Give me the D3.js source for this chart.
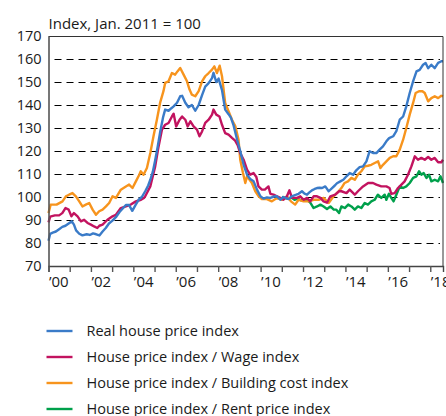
<!DOCTYPE html>
<html>
<head>
<meta charset="utf-8">
<script src="https://cdn.jsdelivr.net/npm/d3@7"></script>
<style>
  body { margin: 0; background: #fff; }
  svg { display: block; }
</style>
</head>
<body>
<svg id="chart" width="446" height="416"></svg>
<script>
// [decimal year, index value]
const realHousePrice = [
  [2000.0, 81], [2000.08, 84], [2000.2, 84.5], [2000.35, 85], [2000.5, 86], [2000.65, 87], [2000.8, 87.5],
  [2000.95, 88.5], [2001.1, 89.4], [2001.2, 88], [2001.3, 85.5], [2001.45, 84], [2001.6, 83.3], [2001.8, 83.8],
  [2001.95, 83.5], [2002.1, 84.2], [2002.25, 83.8], [2002.4, 83.3], [2002.55, 85], [2002.7, 86.5], [2002.85, 88.5],
  [2003.0, 89.6], [2003.2, 91.5], [2003.35, 93.5], [2003.5, 95], [2003.65, 96.5], [2003.8, 96.5], [2003.95, 94],
  [2004.1, 96.5], [2004.25, 98.8], [2004.4, 100], [2004.56, 102.5], [2004.7, 105], [2004.8, 107.5], [2004.92, 111],
  [2005.03, 116], [2005.15, 122], [2005.26, 128], [2005.4, 134.6], [2005.5, 138], [2005.66, 137.5], [2005.78, 138.5],
  [2005.9, 139.4], [2006.06, 141], [2006.21, 143.8], [2006.3, 144], [2006.45, 141], [2006.6, 139], [2006.76, 140],
  [2006.92, 137.5], [2007.08, 140], [2007.24, 144.3], [2007.39, 148], [2007.55, 149.5], [2007.71, 151.7], [2007.78, 154],
  [2007.91, 150], [2008.02, 151.5], [2008.18, 146.5], [2008.33, 138], [2008.49, 136], [2008.6, 134.5], [2008.73, 131],
  [2008.89, 125], [2009.04, 120], [2009.2, 114], [2009.36, 109.7], [2009.51, 107.8], [2009.67, 106.8], [2009.83, 103.2],
  [2009.99, 100.3], [2010.14, 99.3], [2010.3, 99.8], [2010.46, 99.6], [2010.62, 100.2], [2010.77, 100.3], [2010.93, 98.8],
  [2011.08, 100], [2011.2, 99.5], [2011.32, 99.1], [2011.45, 100.2], [2011.56, 100.6], [2011.68, 101], [2011.79, 101.4],
  [2011.95, 102.5], [2012.07, 101.5], [2012.19, 101], [2012.3, 102], [2012.42, 102.9], [2012.55, 103.5], [2012.66, 103.9],
  [2012.78, 104], [2012.9, 103.9], [2013.05, 104.6], [2013.21, 102.5], [2013.37, 103.9], [2013.5, 105], [2013.6, 106],
  [2013.76, 106.8], [2013.9, 107.5], [2014.05, 109], [2014.2, 110.4], [2014.36, 109.7], [2014.51, 111.6], [2014.67, 113],
  [2014.83, 113.3], [2014.99, 115.5], [2015.14, 119.9], [2015.3, 119.1], [2015.46, 119.1], [2015.61, 120.6], [2015.77, 122],
  [2015.93, 124.2], [2016.06, 125.6], [2016.25, 126.4], [2016.4, 128.6], [2016.56, 133.6], [2016.72, 135], [2016.87, 139.4],
  [2017.03, 145.2], [2017.19, 150.3], [2017.35, 154.6], [2017.5, 155.3], [2017.66, 157.5], [2017.78, 158.3], [2017.9, 156],
  [2018.05, 157.5], [2018.21, 156], [2018.37, 158.3], [2018.52, 159], [2018.6, 159]
]
const perWage = [
  [2000.0, 89], [2000.08, 91.5], [2000.3, 92], [2000.5, 92], [2000.65, 93], [2000.8, 95.2], [2000.95, 94.5],
  [2001.08, 91.6], [2001.2, 93], [2001.37, 91.6], [2001.53, 89.4], [2001.68, 90.1], [2001.84, 88.7], [2002.0, 88],
  [2002.15, 87.2], [2002.3, 86.5], [2002.4, 87.5], [2002.55, 88], [2002.78, 90.1], [2003.02, 91.6], [2003.18, 92.3],
  [2003.41, 95.2], [2003.65, 95.9], [2003.88, 96.7], [2004.12, 98.1], [2004.36, 98.8], [2004.5, 99.6], [2004.56, 100.3],
  [2004.8, 104.6], [2005.03, 113.3], [2005.19, 122], [2005.35, 129.3], [2005.5, 131.4], [2005.66, 132.2], [2005.82, 135],
  [2005.9, 136.2], [2006.02, 130.7], [2006.18, 133.6], [2006.3, 135], [2006.45, 133.6], [2006.56, 130.7], [2006.69, 132.9],
  [2006.84, 130.7], [2007.0, 129.3], [2007.12, 126.4], [2007.24, 128.5], [2007.39, 132.2], [2007.55, 133.6], [2007.71, 135.8],
  [2007.78, 138], [2007.91, 135.8], [2008.06, 135], [2008.18, 131.4], [2008.33, 127.8], [2008.49, 127.1], [2008.65, 125.7],
  [2008.8, 124.5], [2008.92, 122.5], [2009.04, 119.1], [2009.2, 116.2], [2009.36, 111.9], [2009.51, 109.7], [2009.67, 110.4],
  [2009.8, 108.7], [2009.9, 104.6], [2010.06, 103.2], [2010.2, 103.2], [2010.37, 104.6], [2010.46, 101.4], [2010.61, 101],
  [2010.77, 100.3], [2010.93, 99.6], [2011.08, 98.8], [2011.24, 100.3], [2011.36, 102.9], [2011.48, 99.6], [2011.72, 99.6],
  [2011.87, 100.3], [2012.03, 98.8], [2012.19, 99.6], [2012.34, 98.1], [2012.5, 100.3], [2012.66, 100.3], [2012.82, 99.6],
  [2012.97, 98.1], [2013.13, 97.5], [2013.29, 100.3], [2013.52, 101], [2013.7, 102.5], [2013.81, 102.5], [2014.05, 101.7],
  [2014.2, 103.2], [2014.44, 101], [2014.59, 102.5], [2014.83, 104.6], [2015.07, 106.1], [2015.3, 106.1], [2015.46, 105.4],
  [2015.69, 104.6], [2015.93, 104.6], [2016.08, 103.9], [2016.16, 101.4], [2016.32, 101.7], [2016.48, 103.9], [2016.64, 105.4],
  [2016.79, 106.8], [2016.95, 109.7], [2017.11, 113.3], [2017.27, 117.7], [2017.42, 116.2], [2017.58, 117], [2017.74, 116.2],
  [2017.9, 117.4], [2018.05, 116.2], [2018.21, 117], [2018.37, 115.1], [2018.52, 115.1], [2018.6, 116.2]
]
const perBuildingCost = [
  [2000.0, 93], [2000.1, 96.7], [2000.38, 96.7], [2000.66, 98.1], [2000.82, 100.3], [2000.97, 101], [2001.13, 101.7],
  [2001.29, 100.3], [2001.45, 98.1], [2001.6, 95.9], [2001.76, 96.7], [2001.92, 97.4], [2002.08, 94.5], [2002.24, 92.3],
  [2002.39, 93.8], [2002.55, 94.5], [2002.71, 95.9], [2002.86, 97.4], [2003.02, 100.3], [2003.18, 99.6], [2003.41, 103.2],
  [2003.65, 104.6], [2003.8, 105.4], [2003.96, 103.9], [2004.12, 106.8], [2004.28, 109.7], [2004.35, 111.2], [2004.48, 109.7],
  [2004.64, 112.6], [2004.8, 119.1], [2004.95, 126.4], [2005.11, 133.6], [2005.26, 140.9], [2005.42, 146], [2005.5, 149.6],
  [2005.66, 150.3], [2005.82, 153.9], [2005.97, 153.2], [2006.08, 154.6], [2006.21, 156.1], [2006.37, 153.2], [2006.53, 150.3],
  [2006.65, 146.7], [2006.76, 144.5], [2006.92, 143.8], [2007.08, 146], [2007.24, 150.3], [2007.39, 152.5], [2007.55, 153.9],
  [2007.71, 155.4], [2007.82, 156.8], [2007.94, 153.9], [2008.07, 157.1], [2008.18, 152.5], [2008.33, 140.9], [2008.49, 137.3],
  [2008.65, 133.6], [2008.81, 130.7], [2008.96, 124.9], [2009.04, 116.2], [2009.17, 110.4], [2009.28, 106.1], [2009.36, 109],
  [2009.48, 107.5], [2009.59, 106.1], [2009.75, 102.5], [2009.91, 100.3], [2010.06, 99.1], [2010.3, 99.1], [2010.53, 98.1],
  [2010.77, 99.6], [2011.0, 98.8], [2011.24, 100.3], [2011.43, 98.1], [2011.63, 96.7], [2011.79, 98.8], [2012.03, 98.1],
  [2012.26, 98.1], [2012.5, 98.8], [2012.74, 98.8], [2012.97, 99.6], [2013.21, 97.4], [2013.44, 100.3], [2013.68, 102.5],
  [2013.81, 103.9], [2013.96, 106.1], [2014.12, 106.8], [2014.28, 108.3], [2014.44, 107.5], [2014.59, 109.7], [2014.75, 111.2],
  [2014.91, 113.3], [2015.06, 113.6], [2015.22, 114], [2015.38, 114.8], [2015.54, 115.5], [2015.65, 112.6], [2015.77, 114],
  [2015.93, 115.5], [2016.09, 117], [2016.25, 117.7], [2016.4, 117.7], [2016.56, 120.6], [2016.72, 124.9], [2016.87, 130],
  [2017.03, 135.8], [2017.19, 140.9], [2017.31, 145.2], [2017.47, 146], [2017.63, 146], [2017.74, 145.2], [2017.9, 141.6],
  [2018.05, 143], [2018.21, 143.8], [2018.37, 143], [2018.52, 144], [2018.6, 143.8]
]
const perRent = [
  [2011.0, 100], [2011.15, 99.6], [2011.3, 99.2], [2011.45, 99.8], [2011.6, 98.8], [2011.75, 99.3], [2011.9, 98.6],
  [2012.05, 98.8], [2012.19, 98.8], [2012.35, 97.4], [2012.5, 95.2], [2012.66, 95.9], [2012.82, 96.7], [2012.97, 95.9],
  [2013.13, 94.8], [2013.29, 95.9], [2013.45, 94.5], [2013.57, 94.5], [2013.7, 93], [2013.81, 95.9], [2013.97, 95.2],
  [2014.13, 96.7], [2014.28, 95.9], [2014.44, 94.5], [2014.59, 95.9], [2014.75, 95.2], [2014.91, 97.4], [2015.06, 96.7],
  [2015.22, 98.1], [2015.38, 98.8], [2015.53, 101], [2015.69, 99.6], [2015.85, 101], [2015.93, 98.8], [2016.05, 101.4],
  [2016.16, 99.6], [2016.27, 98.1], [2016.4, 101], [2016.56, 104.6], [2016.72, 103.9], [2016.87, 104.6], [2017.03, 106.1],
  [2017.19, 108.3], [2017.35, 109], [2017.47, 111.2], [2017.58, 109.7], [2017.69, 110.4], [2017.82, 108.3], [2017.94, 109.7],
  [2018.05, 106.8], [2018.21, 107.5], [2018.37, 106.8], [2018.48, 109], [2018.6, 106.1]
]

const seriesNames = ["Real house price index", "House price index / Wage index",
  "House price index / Building cost index", "House price index / Rent price index"]
const seriesColors = ["#3a7bc8", "#c2135f", "#f7941d", "#00a04b"]
const seriesData = [realHousePrice, perWage, perBuildingCost, perRent]

const yTicks = [70, 80, 90, 100, 110, 120, 130, 140, 150, 160, 170]
const gridValues = [80, 90, 100, 110, 120, 130, 140, 150, 160]
const xTickYears = d3.range(2000, 2019)
const yAxisTitle = "Index, Jan. 2011 = 100"

const font = "'Open Sans', sans-serif"
const margin = {top: 36, right: 3, bottom: 150, left: 48.5}
const width = 446, height = 416

const svg = d3.select("#chart")

const x = d3.scaleLinear()
  .domain([2000, 2018.6])
  .range([margin.left, width - margin.right])
const y = d3.scaleLinear()
  .domain([70, 170])
  .range([height - margin.bottom, margin.top])

// dashed grid, snapped to whole pixels so the dashes stay black
svg.append("g")
  .selectAll("line")
  .data(gridValues)
  .join("line")
  .attr("x1", margin.left + 6)
  .attr("x2", width - margin.right - 3)
  .attr("y1", d => Math.round(y(d)) + 0.5)
  .attr("y2", d => Math.round(y(d)) + 0.5)
  .attr("stroke", "#000")
  .attr("stroke-width", 1.2)
  .attr("stroke-dasharray", "7,5")

// lines, blue last so it sits on top
const line = d3.line()
  .x(d => x(d[0]))
  .y(d => y(d[1]))

const order = [3, 2, 1, 0]
svg.append("g")
  .selectAll("path")
  .data(order)
  .join("path")
  .attr("d", i => line(seriesData[i]))
  .attr("fill", "none")
  .attr("stroke", i => seriesColors[i])
  .attr("stroke-width", 2.4)
  .attr("stroke-linejoin", "round")

// frame top and right
svg.append("path")
  .attr("d", `M${margin.left},${y(170) + 0.5}H${x(2018.6)}V${y(70)}`)
  .attr("fill", "none")
  .attr("stroke", "#333")
  .attr("stroke-width", 1)

// y axis
svg.append("g")
  .attr("transform", `translate(${margin.left},0)`)
  .call(d3.axisLeft(y).tickValues(yTicks).tickSize(0).tickPadding(7))
  .call(g => g.select(".domain").attr("stroke", "#555").attr("stroke-width", 1.6))
  .call(g => g.selectAll("text")
    .attr("font-family", font)
    .attr("font-size", 14.5)
    .attr("fill", "#1a1a1a"))

// x axis
svg.append("g")
  .attr("transform", `translate(0,${y(70)})`)
  .call(d3.axisBottom(x).tickValues(xTickYears).tickSize(6).tickPadding(4)
    .tickFormat(d => d % 2 === 0 ? "\u2019" + String(d).slice(2) : ""))
  .call(g => g.select(".domain").attr("stroke", "#444").attr("stroke-width", 1.4))
  .call(g => g.selectAll(".tick line").attr("stroke", "#555").attr("stroke-width", 1.4))
  .call(g => g.selectAll("text")
    .attr("text-anchor", "start")
    .attr("font-family", font)
    .attr("font-size", 15)
    .attr("fill", "#1a1a1a"))

// axis title
svg.append("text")
  .attr("x", margin.left)
  .attr("y", 29)
  .attr("font-family", font)
  .attr("font-size", 15)
  .attr("fill", "#1a1a1a")
  .text(yAxisTitle)

// legend
const legend = svg.append("g")
  .selectAll("g")
  .data(seriesNames)
  .join("g")
  .attr("transform", (d, i) => `translate(0,${331 + i * 26})`)
legend.append("line")
  .attr("x1", 46.5)
  .attr("x2", 72.5)
  .attr("stroke", (d, i) => seriesColors[i])
  .attr("stroke-width", 2.4)
legend.append("text")
  .attr("x", 86.5)
  .attr("y", 5)
  .attr("font-family", font)
  .attr("font-size", 14.5)
  .attr("fill", "#1a1a1a")
  .text(d => d)
</script>
</body>
</html>
